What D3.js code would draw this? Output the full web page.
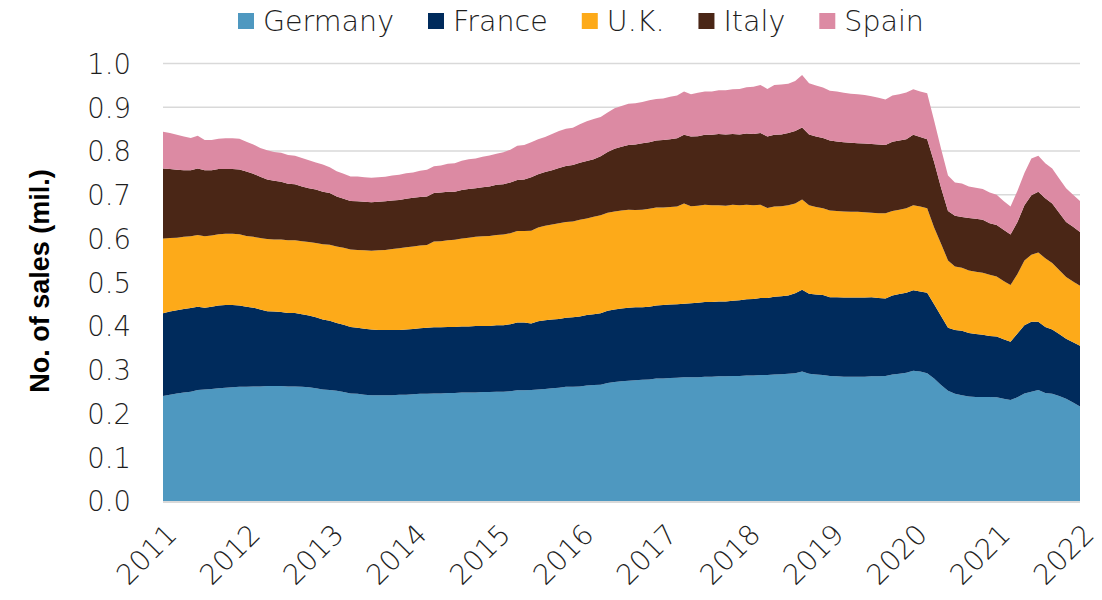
<!DOCTYPE html>
<html>
<head>
<meta charset="utf-8">
<script src="https://cdn.jsdelivr.net/npm/d3@7"></script>
<style>
  html, body { margin: 0; padding: 0; background: #fff; }
  svg { display: block; }
  .lbl { font-family: "DejaVu Sans ExtraLight", "DejaVu Sans", sans-serif; font-weight: 200; fill: #1e1e1e; }
  .title { font-family: "Liberation Sans", Arial, sans-serif; font-weight: 700; fill: #000; }
</style>
</head>
<body>
<svg id="chart" width="1102" height="600"></svg>
<script>
// Monthly passenger car sales (millions), January 2011 to January 2022
const startYear = 2011;
const yearTicks = [2011, 2012, 2013, 2014, 2015, 2016, 2017, 2018, 2019, 2020, 2021, 2022];
const valueTicks = [0, 0.1, 0.2, 0.3, 0.4, 0.5, 0.6, 0.7, 0.8, 0.9, 1.0];
const countries = ["Germany", "France", "U.K.", "Italy", "Spain"];

const germany = [
  .240, .243, .246, .248, .250, .254, .255, .256, .258, .259, .260, .261,
  .261, .262, .262, .263, .263, .263, .262, .262, .261, .260, .258, .255,
  .254, .252, .249, .246, .245, .243, .242, .242, .242, .242, .243, .243,
  .244, .245, .245, .246, .246, .247, .247, .248, .248, .248, .249, .249,
  .250, .250, .251, .253, .253, .254, .255, .256, .258, .259, .261, .261,
  .262, .264, .265, .266, .270, .272, .274, .275, .276, .277, .278, .280,
  .280, .281, .282, .283, .283, .283, .284, .284, .285, .285, .286, .286,
  .287, .287, .288, .288, .289, .290, .291, .292, .296, .291, .289, .288,
  .286, .285, .284, .284, .284, .284, .285, .285, .286, .289, .291, .293,
  .298, .296, .292, .280, .265, .252, .245, .242, .239, .238, .238, .238,
  .237, .234, .231, .237, .246, .250, .254, .247, .245, .240, .234, .225,
  .216
];

const france = [
  .189, .190, .190, .191, .191, .190, .187, .188, .189, .189, .188, .186,
  .183, .180, .176, .171, .170, .169, .168, .168, .166, .164, .162, .160,
  .158, .155, .154, .152, .151, .151, .150, .149, .149, .149, .148, .149,
  .149, .150, .151, .151, .151, .151, .151, .151, .151, .152, .151, .151,
  .152, .152, .153, .155, .155, .152, .156, .157, .157, .157, .158, .159,
  .160, .161, .162, .163, .165, .166, .166, .167, .167, .166, .166, .167,
  .168, .168, .168, .168, .169, .170, .171, .171, .171, .171, .172, .173,
  .174, .175, .176, .176, .178, .178, .179, .183, .187, .183, .183, .183,
  .180, .181, .181, .181, .181, .181, .181, .179, .177, .181, .182, .183,
  .184, .183, .184, .170, .158, .144, .146, .147, .145, .144, .142, .139,
  .139, .136, .133, .146, .156, .160, .156, .151, .147, .142, .137, .138,
  .139
];

const uk = [
  .171, .168, .166, .165, .164, .164, .163, .163, .163, .163, .163, .163,
  .162, .162, .163, .165, .165, .166, .166, .166, .167, .168, .170, .172,
  .174, .175, .176, .177, .178, .179, .180, .182, .183, .185, .187, .188,
  .189, .189, .189, .196, .197, .198, .199, .201, .203, .204, .205, .206,
  .206, .207, .208, .209, .209, .212, .214, .216, .217, .219, .219, .219,
  .221, .221, .223, .224, .224, .224, .224, .224, .222, .223, .224, .224,
  .223, .223, .223, .229, .222, .222, .222, .221, .220, .219, .219, .217,
  .216, .214, .213, .206, .206, .206, .206, .205, .206, .202, .200, .198,
  .198, .197, .197, .196, .196, .195, .193, .194, .195, .193, .193, .193,
  .194, .194, .193, .175, .165, .154, .145, .144, .143, .142, .142, .140,
  .137, .133, .130, .136, .148, .153, .158, .157, .152, .146, .141, .139,
  .137
];

const italy = [
  .160, .158, .155, .152, .151, .152, .151, .149, .149, .148, .148, .148,
  .147, .144, .140, .136, .134, .132, .129, .128, .125, .123, .122, .120,
  .118, .114, .112, .111, .111, .111, .111, .111, .111, .111, .110, .111,
  .111, .111, .111, .111, .111, .111, .110, .111, .111, .111, .112, .113,
  .115, .115, .116, .117, .118, .122, .122, .123, .124, .126, .128, .129,
  .130, .131, .131, .135, .139, .143, .146, .148, .150, .152, .152, .153,
  .154, .155, .156, .157, .159, .159, .160, .161, .163, .163, .162, .162,
  .163, .163, .164, .163, .164, .164, .165, .166, .165, .162, .161, .161,
  .160, .159, .158, .158, .157, .157, .157, .157, .156, .158, .158, .158,
  .161, .159, .158, .150, .128, .113, .116, .116, .120, .121, .121, .118,
  .118, .117, .115, .119, .126, .136, .139, .137, .136, .131, .126, .125,
  .123
];

const spain = [
  .084, .082, .080, .077, .074, .075, .069, .069, .069, .070, .070, .070,
  .068, .067, .066, .067, .066, .066, .066, .065, .065, .064, .062, .062,
  .059, .058, .057, .056, .057, .056, .056, .056, .056, .057, .058, .058,
  .058, .060, .061, .061, .062, .064, .065, .067, .068, .068, .070, .071,
  .071, .073, .075, .078, .079, .080, .080, .080, .083, .085, .085, .085,
  .088, .091, .092, .090, .090, .093, .093, .094, .094, .094, .096, .095,
  .095, .097, .098, .099, .097, .099, .099, .099, .100, .101, .102, .104,
  .106, .108, .110, .109, .114, .114, .113, .114, .120, .117, .117, .115,
  .114, .114, .113, .112, .112, .111, .109, .107, .104, .106, .106, .107,
  .104, .104, .105, .095, .089, .081, .076, .077, .072, .071, .070, .070,
  .069, .066, .064, .071, .074, .084, .082, .080, .080, .078, .077, .073,
  .071
];

const seriesValues = [germany, france, uk, italy, spain];
const colors = ["#4e98c0", "#002b5c", "#fdaa19", "#4a2616", "#dc8aa3"];

// One row per month, time expressed as fractional years
const rows = germany.map((_, i) => {
  const r = { t: startYear + i / 12 };
  countries.forEach((c, k) => { r[c] = seriesValues[k][i]; });
  return r;
});

const svg = d3.select("#chart");
const plot = { left: 163, right: 1080, top: 63.5, bottom: 501 };

const x = d3.scaleLinear()
  .domain([yearTicks[0], yearTicks[yearTicks.length - 1]])
  .range([plot.left, plot.right]);
const y = d3.scaleLinear().domain([0, 1]).range([plot.bottom, plot.top]);

// Horizontal gridlines
svg.append("g")
  .selectAll("line")
  .data(valueTicks.filter(v => v > 0))
  .join("line")
  .attr("x1", plot.left).attr("x2", plot.right)
  .attr("y1", d => y(d)).attr("y2", d => y(d))
  .attr("stroke", "#d9d9d9").attr("stroke-width", 1.5);

// Stacked areas
const stacked = d3.stack().keys(countries)(rows);
const area = d3.area()
  .x(d => x(d.data.t))
  .y0(d => y(d[0]))
  .y1(d => y(d[1]));

svg.append("g")
  .selectAll("path")
  .data(stacked)
  .join("path")
  .attr("fill", (d, i) => colors[i])
  .attr("d", area);

// Baseline
svg.append("line")
  .attr("x1", plot.left).attr("x2", plot.right)
  .attr("y1", y(0) + 1).attr("y2", y(0) + 1)
  .attr("stroke", "#d9d9d9").attr("stroke-width", 2);

// Y axis labels
const yAxis = svg.append("g")
  .attr("transform", `translate(${plot.left - 32},0)`)
  .call(d3.axisLeft(y).tickValues(valueTicks).tickFormat(d3.format(".1f")).tickSize(0).tickPadding(0));
yAxis.select(".domain").remove();
yAxis.selectAll("text")
  .attr("class", "lbl")
  .attr("font-size", 27.5)
  .attr("dy", "0.36em")
  .attr("fill", null);

// X axis labels, rotated
const xAxis = svg.append("g")
  .attr("transform", `translate(0,${plot.bottom})`)
  .call(d3.axisBottom(x).tickValues(yearTicks).tickFormat(d3.format("d")).tickSize(0));
xAxis.select(".domain").remove();
xAxis.selectAll("text")
  .attr("class", "lbl")
  .attr("font-size", 28)
  .attr("fill", null)
  .attr("text-anchor", "end")
  .attr("dy", "0.35em")
  .attr("transform", "translate(6,26) rotate(-45)");

// Y axis title
svg.append("text")
  .attr("class", "title")
  .attr("font-size", 27)
  .attr("text-anchor", "middle")
  .attr("transform", "translate(49,281) rotate(-90)")
  .text("No. of sales (mil.)");

// Legend
const legend = svg.append("g").attr("transform", "translate(238,0)");
let lx = 0;
countries.forEach((c, i) => {
  const g = legend.append("g").attr("transform", `translate(${lx},0)`);
  g.append("rect").attr("x", 0).attr("y", 13).attr("width", 16).attr("height", 16).attr("fill", colors[i]);
  const t = g.append("text").attr("class", "lbl").attr("font-size", 28.5)
    .attr("x", 25).attr("y", 31).text(c);
  lx += 25 + t.node().getComputedTextLength() + 34;
});
</script>
</body>
</html>
